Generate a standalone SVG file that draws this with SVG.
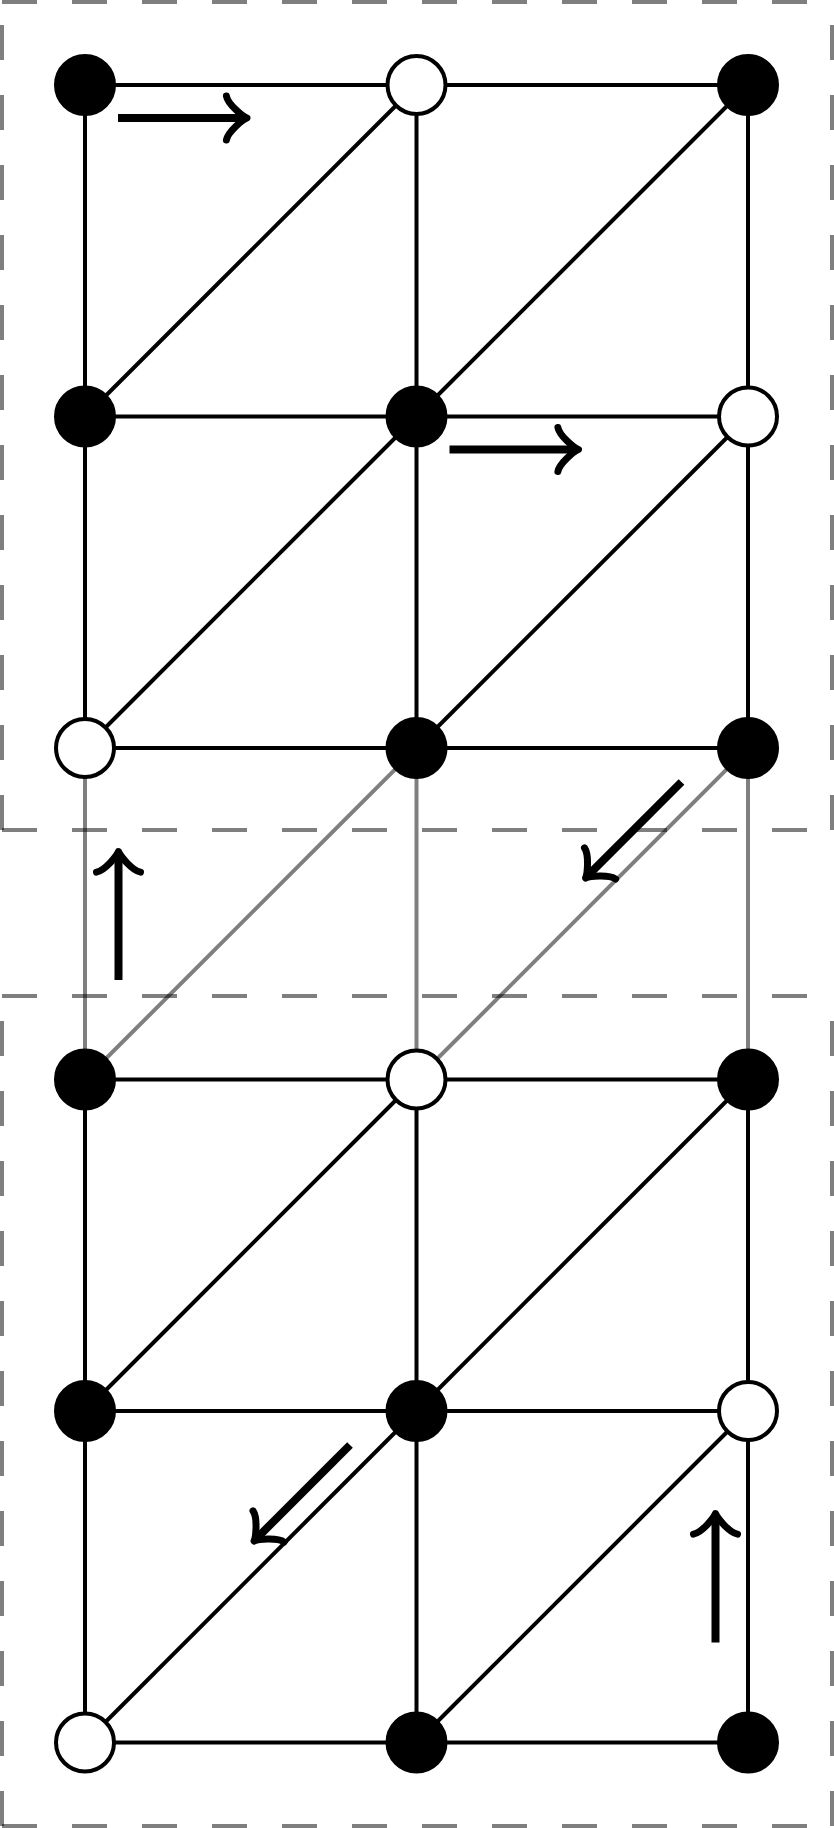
<svg xmlns="http://www.w3.org/2000/svg" xmlns:xlink="http://www.w3.org/1999/xlink" width="834" height="1828" viewBox="0 0 834 1828">
<style>
.dash{stroke:#000;stroke-opacity:0.5;stroke-width:4;stroke-dasharray:35 35;fill:none}
.edge{stroke:#000;stroke-width:4;fill:none}
.ghost{stroke:#000;stroke-opacity:0.5;stroke-width:4;fill:none}
.nd{stroke:#000;stroke-width:4}
.b{fill:#000}
.w{fill:#fff}
.shaft{stroke:#000;stroke-width:8;fill:none;stroke-linecap:butt}
.head{stroke:#000;stroke-width:7;fill:none;stroke-linecap:round;stroke-linejoin:round}
</style>
<defs>
<path id="tip" class="head" d="M-20.6,-22 C-19.2,-13.75 -4.1,-1.4 0,0 C-4.1,1.4 -19.2,13.75 -20.6,22"/>
</defs>
<rect width="834" height="1828" fill="#fff"/>
<g id="frames">
<line class="dash" x1="2" y1="2" x2="832" y2="2"/>
<line class="dash" x1="2" y1="830" x2="832" y2="830"/>
<line class="dash" x1="2" y1="830" x2="2" y2="2"/>
<line class="dash" x1="832" y1="830" x2="832" y2="2"/>
<line class="dash" x1="2" y1="996" x2="832" y2="996"/>
<line class="dash" x1="2" y1="1826" x2="832" y2="1826"/>
<line class="dash" x1="2" y1="1826" x2="2" y2="996"/>
<line class="dash" x1="832" y1="1826" x2="832" y2="996"/>
</g>
<g id="connectors">
<line class="edge" x1="85" y1="85" x2="748" y2="85"/>
<line class="edge" x1="85" y1="416.5" x2="748" y2="416.5"/>
<line class="edge" x1="85" y1="748" x2="748" y2="748"/>
<line class="edge" x1="85" y1="85" x2="85" y2="748"/>
<line class="edge" x1="416.5" y1="85" x2="416.5" y2="748"/>
<line class="edge" x1="748" y1="85" x2="748" y2="748"/>
<line class="edge" x1="85" y1="416.5" x2="416.5" y2="85"/>
<line class="edge" x1="416.5" y1="416.5" x2="748" y2="85"/>
<line class="edge" x1="85" y1="748" x2="416.5" y2="416.5"/>
<line class="edge" x1="416.5" y1="748" x2="748" y2="416.5"/>
<line class="ghost" x1="85" y1="748" x2="85" y2="1079.5"/>
<line class="ghost" x1="416.5" y1="748" x2="416.5" y2="1079.5"/>
<line class="ghost" x1="748" y1="748" x2="748" y2="1079.5"/>
<line class="ghost" x1="85" y1="1079.5" x2="416.5" y2="748"/>
<line class="ghost" x1="416.5" y1="1079.5" x2="748" y2="748"/>
<line class="edge" x1="85" y1="1079.5" x2="748" y2="1079.5"/>
<line class="edge" x1="85" y1="1411" x2="748" y2="1411"/>
<line class="edge" x1="85" y1="1742.5" x2="748" y2="1742.5"/>
<line class="edge" x1="85" y1="1079.5" x2="85" y2="1742.5"/>
<line class="edge" x1="416.5" y1="1079.5" x2="416.5" y2="1742.5"/>
<line class="edge" x1="748" y1="1079.5" x2="748" y2="1742.5"/>
<line class="edge" x1="85" y1="1411" x2="416.5" y2="1079.5"/>
<line class="edge" x1="416.5" y1="1411" x2="748" y2="1079.5"/>
<line class="edge" x1="85" y1="1742.5" x2="416.5" y2="1411"/>
<line class="edge" x1="416.5" y1="1742.5" x2="748" y2="1411"/>
</g>
<g id="n11"><circle class="nd b" cx="85" cy="85" r="29"/></g>
<g id="n12"><circle class="nd w" cx="416.5" cy="85" r="29"/></g>
<g id="n13"><circle class="nd b" cx="748" cy="85" r="29"/></g>
<g id="n21"><circle class="nd b" cx="85" cy="416.5" r="29"/></g>
<g id="n22"><circle class="nd b" cx="416.5" cy="416.5" r="29"/></g>
<g id="n23"><circle class="nd w" cx="748" cy="416.5" r="29"/></g>
<g id="n31"><circle class="nd w" cx="85" cy="748" r="29"/></g>
<g id="n32"><circle class="nd b" cx="416.5" cy="748" r="29"/></g>
<g id="n33"><circle class="nd b" cx="748" cy="748" r="29"/></g>
<g id="n41"><circle class="nd b" cx="85" cy="1079.5" r="29"/></g>
<g id="n42"><circle class="nd w" cx="416.5" cy="1079.5" r="29"/></g>
<g id="n43"><circle class="nd b" cx="748" cy="1079.5" r="29"/></g>
<g id="n51"><circle class="nd b" cx="85" cy="1411" r="29"/></g>
<g id="n52"><circle class="nd b" cx="416.5" cy="1411" r="29"/></g>
<g id="n53"><circle class="nd w" cx="748" cy="1411" r="29"/></g>
<g id="n61"><circle class="nd w" cx="85" cy="1742.5" r="29"/></g>
<g id="n62"><circle class="nd b" cx="416.5" cy="1742.5" r="29"/></g>
<g id="n63"><circle class="nd b" cx="748" cy="1742.5" r="29"/></g>
<g id="arrows">
<path class="shaft" d="M118,118 H243"/>
<use href="#tip" xlink:href="#tip" transform="translate(247,118)"/>
<path class="shaft" d="M449.5,449.5 H574.5"/>
<use href="#tip" xlink:href="#tip" transform="translate(578.5,449.5)"/>
<path class="shaft" d="M118.5,980 V855.5"/>
<use href="#tip" xlink:href="#tip" transform="translate(118.5,851.5) rotate(-90)"/>
<path class="shaft" d="M715.5,1642.5 V1517.5"/>
<use href="#tip" xlink:href="#tip" transform="translate(715.5,1513.5) rotate(-90)"/>
<path class="shaft" d="M681.5,782 L588.3,875.2"/>
<use href="#tip" xlink:href="#tip" transform="translate(585.5,878) rotate(135)"/>
<path class="shaft" d="M350,1445 L256.8,1538.2"/>
<use href="#tip" xlink:href="#tip" transform="translate(254,1541) rotate(135)"/>
</g>
</svg>
